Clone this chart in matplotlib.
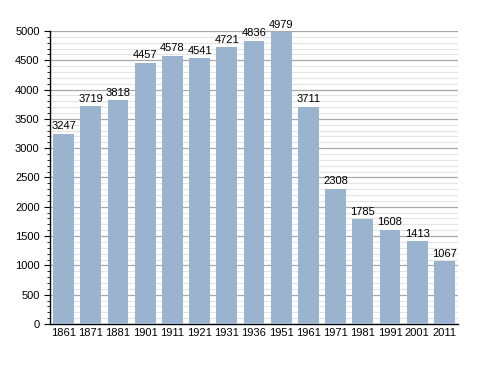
import numpy as np
import matplotlib.pyplot as plt
from matplotlib.ticker import MultipleLocator

plt.rcParams['font.family'] = ['Liberation Sans', 'DejaVu Sans']

years = ['1861', '1871', '1881', '1901', '1911', '1921', '1931', '1936',
         '1951', '1961', '1971', '1981', '1991', '2001', '2011']
population = [3247, 3719, 3818, 4457, 4578, 4541, 4721, 4836,
              4979, 3711, 2308, 1785, 1608, 1413, 1067]

fig = plt.figure(figsize=(4.88, 3.73), dpi=100)
ax = fig.add_axes([0.1025, 0.1314, 0.836, 0.7856])

x = np.arange(len(years))
ax.bar(x, population, width=0.77, color='#9ab3cf', zorder=3)
for xi, v in zip(x, population):
    ax.text(xi, v + 40, str(v), ha='center', va='bottom', fontsize=8, zorder=4)

ax.set_xlim(-0.5, len(years) - 0.5)
ax.set_ylim(0, 5000)
ax.set_xticks(x)
ax.set_xticklabels(years, fontsize=8)
ax.yaxis.set_major_locator(MultipleLocator(500))
ax.yaxis.set_minor_locator(MultipleLocator(100))
ax.tick_params(axis='y', which='major', length=4, labelsize=8, direction='out')
ax.tick_params(axis='y', which='minor', length=2, direction='out')
ax.tick_params(axis='x', length=0, labelsize=8, pad=3)

ax.grid(axis='y', which='major', color='#a8a8a8', linewidth=0.9, zorder=0)
ax.grid(axis='y', which='minor', color='#e4e4e4', linewidth=0.8, zorder=0)

for side in ['top', 'right']:
    ax.spines[side].set_visible(False)
ax.spines['left'].set_linewidth(1.0)
ax.spines['bottom'].set_linewidth(1.0)

fig.savefig('out.png', dpi=100)
